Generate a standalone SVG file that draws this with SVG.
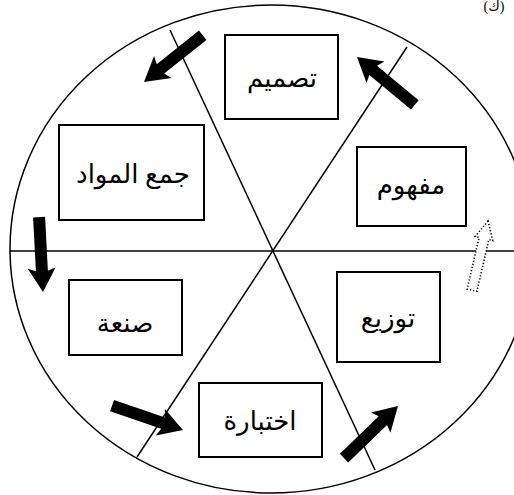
<svg xmlns="http://www.w3.org/2000/svg" xmlns:xlink="http://www.w3.org/1999/xlink" width="514" height="495" viewBox="0 0 514 495">
<style>
.ln{fill:none;stroke:#000;stroke-width:1.5}
.box{fill:#fff;stroke:#000;stroke-width:2}
.lbl{font-family:"Liberation Serif","DejaVu Serif","DejaVu Sans",serif;font-size:26px;fill:#000;text-anchor:middle;dominant-baseline:central}
.dot{fill:#fff;stroke:#000;stroke-width:1.6;stroke-dasharray:1.2 2}
</style>
<defs>
<path id="arr" d="M0,0 L-24,-14 L-21,-6 L-75,-6 L-75,6 L-21,6 L-24,14 Z" fill="#000"/>
</defs>
<rect width="514" height="495" fill="#fff"/>
<text x="494" y="11" font-family="Liberation Serif,DejaVu Sans,serif" font-size="14" text-anchor="middle">(ك)</text>
<g id="connectors">
<ellipse class="ln" cx="271" cy="249" rx="261" ry="244"/>
<line class="ln" x1="10" y1="251" x2="514" y2="251"/>
<line class="ln" x1="170" y1="30" x2="375" y2="470"/>
<line class="ln" x1="407" y1="47" x2="137" y2="457"/>
<use xlink:href="#arr" transform="translate(144,82) rotate(141.5)"/>
<use xlink:href="#arr" transform="translate(357,57) rotate(-140.4)"/>
<use xlink:href="#arr" transform="translate(43,292) rotate(87)"/>
<use xlink:href="#arr" transform="translate(183,430) rotate(19)"/>
<use xlink:href="#arr" transform="translate(398,406) rotate(-44)"/>
<path class="dot" transform="translate(488,221) rotate(-77)" d="M0,0 L-18,-9 L-18,-5 L-71,-5 L-71,5 L-18,5 L-18,9 Z"/>
</g>
<g id="n-design"><rect class="box" x="225" y="35" width="113" height="84"/><text class="lbl" x="282" y="78">تصميم</text></g>
<g id="n-concept"><rect class="box" x="357" y="147" width="109" height="79"/><text class="lbl" x="411" y="185">مفهوم</text></g>
<g id="n-collect"><rect class="box" x="59" y="125" width="145" height="95"/><text class="lbl" x="133" y="174">جمع المواد</text></g>
<g id="n-make"><rect class="box" x="69" y="280" width="113" height="75"/><text class="lbl" x="125" y="323">صنعة</text></g>
<g id="n-distribute"><rect class="box" x="337" y="272" width="103" height="90"/><text class="lbl" x="388" y="318">توزيع</text></g>
<g id="n-test"><rect class="box" x="199" y="383" width="123" height="74"/><text class="lbl" x="260" y="421">اختبارة</text></g>
</svg>
